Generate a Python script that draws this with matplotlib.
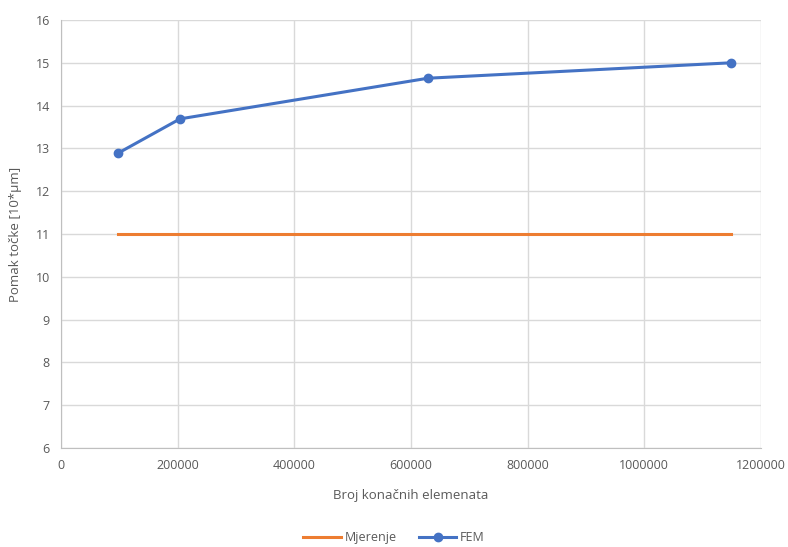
import matplotlib
matplotlib.use("Agg")
import matplotlib.pyplot as plt
from matplotlib.ticker import FuncFormatter

elementi = [98000, 204000, 629000, 1148000]
fem = [12.89, 13.69, 14.64, 15.0]
mjerenje = [11, 11, 11, 11]

plt.rcParams["font.family"] = ["Open Sans", "DejaVu Sans"]

fig = plt.figure(figsize=(7.88, 5.47), dpi=100)
ax = fig.add_axes([0.0774, 0.181, 0.8883, 0.7824])

ax.plot(elementi, mjerenje, color="#ED7D31", lw=2.2, label="Mjerenje")
ax.plot(elementi, fem, color="#4472C4", lw=2.2, marker="o", ms=6,
        label="FEM")

ax.set_xlim(0, 1200000)
ax.set_ylim(6, 16)
ax.set_xticks(range(0, 1200001, 200000))
ax.set_yticks(range(6, 17))
ax.xaxis.set_major_formatter(FuncFormatter(lambda v, p: f"{int(v)}"))
ax.grid(color="#D9D9D9", lw=1)
ax.set_axisbelow(True)
for s in ["top", "right"]:
    ax.spines[s].set_visible(False)
for s in ["left", "bottom"]:
    ax.spines[s].set_color("#BFBFBF")
ax.tick_params(length=0, labelsize=9, colors="#595959", pad=8)

ax.set_xlabel("Broj konačnih elemenata", fontsize=9.5, color="#595959",
              labelpad=12)
ax.set_ylabel("Pomak točke [10*µm]", fontsize=9.5, color="#595959",
              labelpad=10)

leg = fig.legend(loc="center", bbox_to_anchor=(0.5, 0.017), ncol=2,
                 frameon=False, fontsize=9, handlelength=3.0,
                 columnspacing=1.8, handletextpad=0.3)
for t in leg.get_texts():
    t.set_color("#595959")

fig.savefig("out.png", dpi=100)
